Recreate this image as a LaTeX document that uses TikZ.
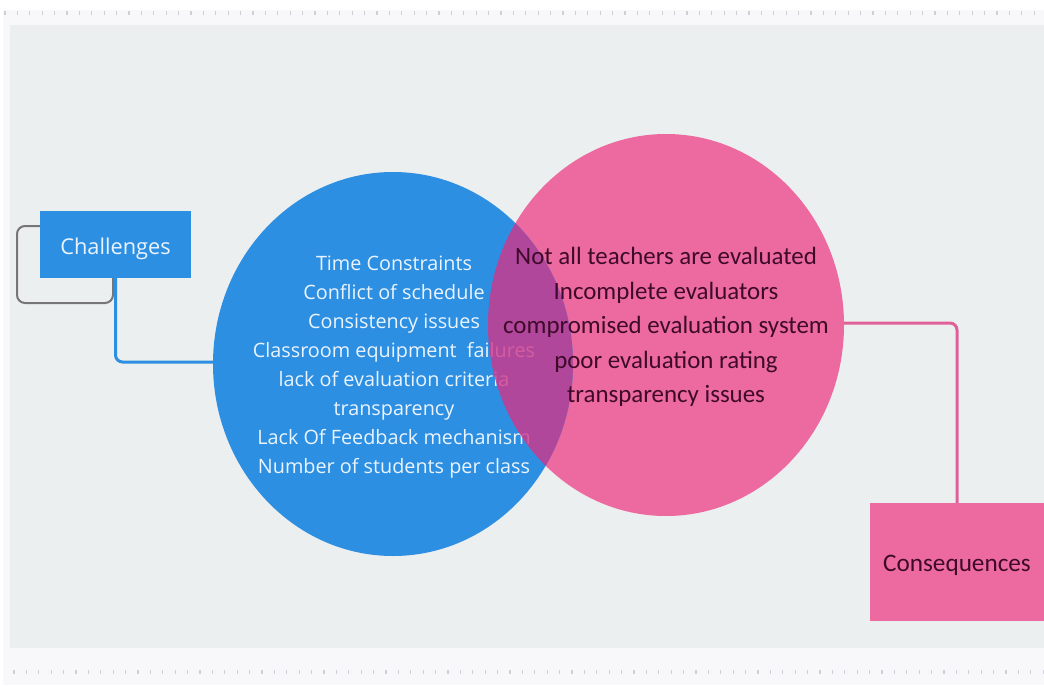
\documentclass[tikz,border=0pt]{standalone}
\usepackage{fontspec}
\newfontfamily\opensans{Open Sans}
\newfontfamily\carlito{Carlito}
\usetikzlibrary{calc}
\definecolor{pagebg}{HTML}{FFFFFF}
\definecolor{panelbg}{HTML}{F8F8FA}
\definecolor{canvasbg}{HTML}{ECEFF0}
\definecolor{tickc}{HTML}{CFCFD6}
\definecolor{bluec}{HTML}{2D8FE2}
\definecolor{pinkc}{HTML}{EC6AA0}
\definecolor{overlapc}{HTML}{D13689}
\definecolor{bluetext}{HTML}{EAF4FF}
\definecolor{pinktext}{HTML}{3F0A2A}
\definecolor{grayline}{HTML}{767676}
\definecolor{pinkline}{HTML}{E0609A}
\tikzset{
  boxblue/.style={fill=bluec, minimum width=151pt, minimum height=67pt, inner sep=0pt,
    text=bluetext, font=\opensans\fontsize{21.8}{24}\selectfont,
    text height=22pt, text depth=2pt},
  boxpink/.style={fill=pinkc, minimum width=174pt, minimum height=118pt, inner sep=0pt,
    text=pinktext, font=\carlito\fontsize{25.2}{28}\selectfont,
    text height=21pt, text depth=2pt},
  bluelist/.style={align=center, text=bluetext, inner sep=0pt,
    font=\opensans\fontsize{19.8}{29}\selectfont},
  pinklist/.style={align=center, text=pinktext, inner sep=0pt,
    font=\carlito\fontsize{24.9}{34.5}\selectfont},
  conblue/.style={draw=bluec, line width=3pt, rounded corners=7pt},
  conpink/.style={draw=pinkline, line width=3pt, rounded corners=7pt},
  congray/.style={draw=grayline, line width=2pt, rounded corners=8pt},
  tick/.style={draw=tickc, line width=1.2pt}
}
\begin{document}
\begin{tikzpicture}[x=1pt,y=-1pt]
\useasboundingbox (0,0) rectangle (1044,686);
\fill[pagebg] (0,0) rectangle (1044,686);
\fill[panelbg] (3,10) rectangle (1044,685);
\fill[canvasbg] (10,25) rectangle (1044,648);
% tick rows
\foreach \i in {0,...,84} {
  \draw[tick] ({5+12.4*\i},11) -- ({5+12.4*\i},15);
  \draw[tick] ({14+12.4*\i},670) -- ({14+12.4*\i},674);
}
% circles
\fill[pinkc] (666,325) ellipse [x radius=178, y radius=191];
\fill[bluec] (393,364) ellipse [x radius=180, y radius=192];
\node[bluelist] (blist) at (394,367) {Time Constraints\\Conflict of schedule\\Consistency issues\\Classroom equipment\ \ failures\\lack of evaluation criteria\\transparency\\Lack Of Feedback mechanism\\Number of students per class};
\begin{scope}
  \clip (393,364) ellipse [x radius=180, y radius=192];
  \fill[overlapc, fill opacity=0.8] (666,325) ellipse [x radius=178, y radius=191];
\end{scope}
\node[pinklist] (plist) at (666,327) {Not all teachers are evaluated\\Incomplete evaluators\\compromised evaluation system\\poor evaluation rating\\transparency issues};
% invisible anchors on circles
\coordinate (bwest) at (213,362);
\coordinate (peast) at (844,323);
% gray bracket
\coordinate (g1) at (100,226);
\coordinate (g2) at (113,278);
\draw[congray] (g1) -- (17,226) -- (17,303) -- (113,303) -- (g2);
% boxes
\node[boxblue] (chal) at (115.5,244.5) {Challenges};
\node[boxpink] (cons) at (957,562) {Consequences};
% connectors
\draw[conblue] (chal.south) |- (bwest);
\draw[conpink] (peast) -| (cons.north);
\end{tikzpicture}
\end{document}
